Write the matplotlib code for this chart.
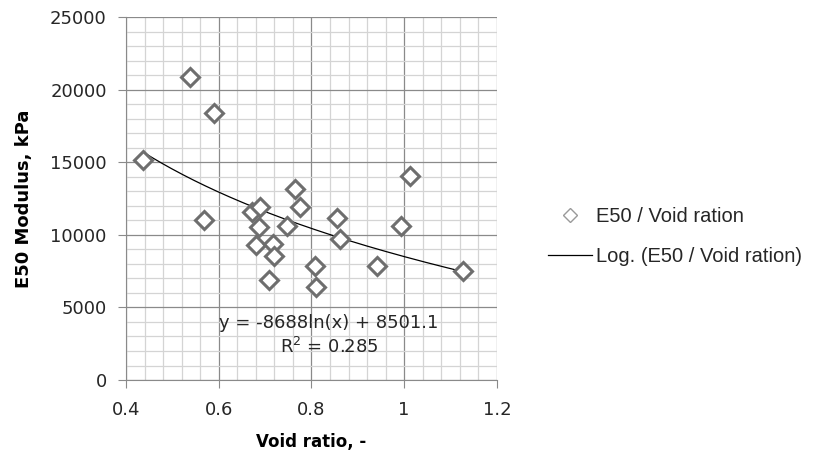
import matplotlib.pyplot as plt
import matplotlib.ticker as mticker
from matplotlib.lines import Line2D
import numpy as np

void_ratio = [0.538, 0.590, 0.436, 1.012, 0.764, 0.568, 0.671, 0.690, 0.775,
              0.856, 0.993, 0.687, 0.748, 0.861, 0.680, 0.718, 0.719, 0.941,
              0.808, 1.127, 0.709, 0.810]
e50 = [20900, 18400, 15150, 14050, 13130, 11020, 11590, 11940, 11940,
       11180, 10630, 10560, 10630, 9690, 9300, 9370, 8540, 7850,
       7850, 7530, 6890, 6430]
slope = -8688
intercept = 8501.1
r2 = 0.285

plt.rcParams['font.family'] = ['DejaVu Sans']

fig = plt.figure(figsize=(8.24, 4.59), dpi=100)
ax = fig.add_axes([0.153, 0.172, 0.45, 0.791])

ax.plot(void_ratio, e50, linestyle='none', marker='D', ms=9.5, mfc='white',
        mec='#6e6e6e', mew=2.2, zorder=3)
xs = np.linspace(min(void_ratio), max(void_ratio), 200)
ax.plot(xs, slope * np.log(xs) + intercept, color='black', lw=0.9, zorder=2)

ax.set_xlim(0.4, 1.2)
ax.set_ylim(0, 25000)
ax.xaxis.set_major_locator(mticker.MultipleLocator(0.2))
ax.xaxis.set_minor_locator(mticker.MultipleLocator(0.04))
ax.yaxis.set_major_locator(mticker.MultipleLocator(5000))
ax.yaxis.set_minor_locator(mticker.MultipleLocator(1000))
ax.xaxis.set_major_formatter(mticker.FuncFormatter(lambda v, p: f'{v:g}'))
ax.grid(which='minor', color='#d4d4d4', lw=0.9)
ax.grid(which='major', color='#8a8a8a', lw=0.9)
ax.set_axisbelow(True)
for s in ['top', 'right']:
    ax.spines[s].set_visible(False)
for s in ['left', 'bottom']:
    ax.spines[s].set_color('#8a8a8a')
ax.tick_params(which='major', length=6, color='#8a8a8a', labelsize=13,
               labelcolor='#262626')
ax.tick_params(which='minor', length=0)
ax.tick_params(axis='x', pad=9)
ax.tick_params(axis='y', pad=8)

ax.set_xlabel('Void ratio, -', fontsize=12, fontweight='bold', labelpad=10)
ax.set_ylabel('E50 Modulus, kPa', fontsize=13, fontweight='bold', labelpad=12)

ax.text(0.838, 3950, f'y = {slope}ln(x) + {intercept}', fontsize=13,
        ha='center', va='center', color='#262626')
ax.text(0.838, 2250, f'R$^2$ = {r2}', fontsize=13, ha='center', va='center',
        color='#262626')

handles = [
    Line2D([], [], linestyle='none', marker='D', ms=7, mfc='white',
           mec='#9a9a9a', mew=1.0),
    Line2D([], [], color='black', lw=0.9),
]
fig.legend(handles, ['E50 / Void ration', 'Log. (E50 / Void ration)'],
           loc='center left', bbox_to_anchor=(0.643, 0.485), frameon=False,
           prop={'family': 'Liberation Sans', 'size': 14.5},
           handlelength=2.2, labelspacing=1.05, handletextpad=0.2,
           labelcolor='#262626')

fig.savefig('out.png', dpi=100)
